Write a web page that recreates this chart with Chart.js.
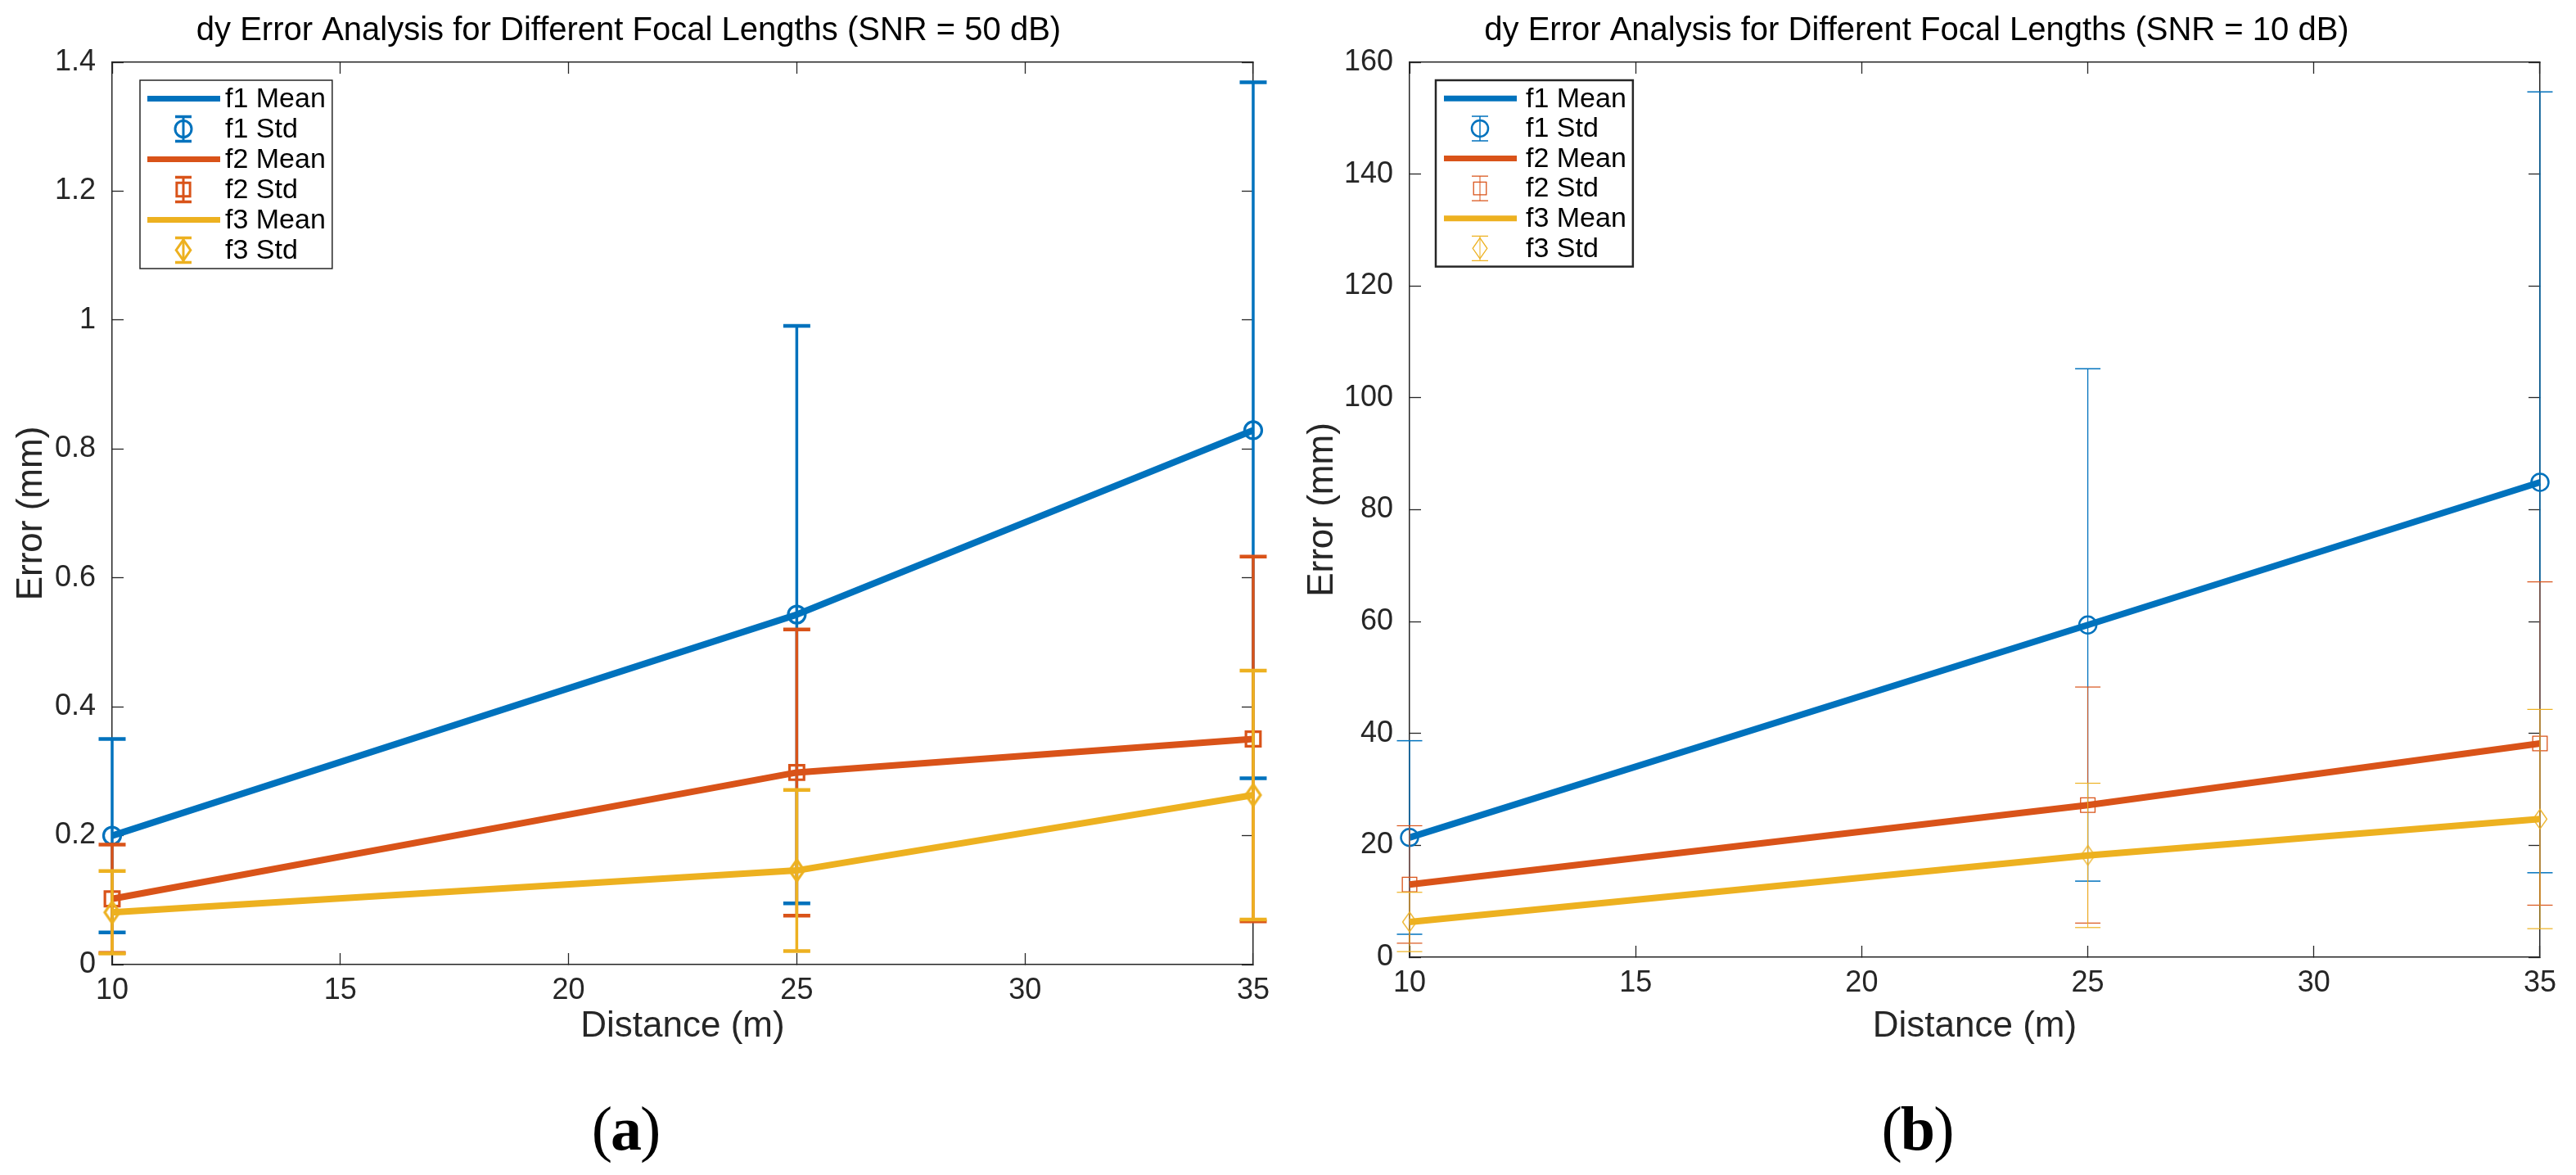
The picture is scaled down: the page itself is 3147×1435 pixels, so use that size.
<!DOCTYPE html>
<html>
<head>
<meta charset="utf-8">
<script src="https://cdn.jsdelivr.net/npm/chart.js@4.4.1/dist/chart.umd.min.js"></script>
<style>
html,body{margin:0;padding:0;background:#fff;width:3147px;height:1435px;overflow:hidden;}
.panel{position:absolute;top:0;height:1300px;}
#pa{left:0;width:1575px;}
#pb{left:1575px;width:1572px;}
.cap{position:absolute;top:1340px;font-family:'Liberation Serif','Times New Roman',serif;font-size:76px;line-height:76px;color:#000;transform:translateX(-50%);white-space:nowrap;letter-spacing:-2px;}
</style>
</head>
<body>
<div class="panel" id="pa"><canvas id="ca"></canvas></div>
<div class="panel" id="pb"><canvas id="cb"></canvas></div>
<div class="cap" style="left:764px;">(<b>a</b>)</div>
<div class="cap" style="left:2342px;">(<b>b</b>)</div>
<script>
// ---------------- data ----------------
const distances = [10, 25, 35];
const xTicks = [10, 15, 20, 25, 30, 35];
const xTickLabels = ['10', '15', '20', '25', '30', '35'];

const yTicksA = [0, 0.2, 0.4, 0.6, 0.8, 1, 1.2, 1.4];
const yTickLabelsA = ['0', '0.2', '0.4', '0.6', '0.8', '1', '1.2', '1.4'];
const yTicksB = [0, 20, 40, 60, 80, 100, 120, 140, 160];
const yTickLabelsB = ['0', '20', '40', '60', '80', '100', '120', '140', '160'];

// (a) SNR = 50 dB
const f1MeanA = [0.200, 0.543, 0.829];
const f1StdA  = [0.150, 0.448, 0.540];
const f2MeanA = [0.102, 0.298, 0.350];
const f2StdA  = [0.084, 0.222, 0.283];
const f3MeanA = [0.081, 0.146, 0.263];
const f3StdA  = [0.064, 0.125, 0.193];

// (b) SNR = 10 dB
const f1MeanB = [21.4, 59.4, 84.9];
const f1StdB  = [17.3, 45.8, 69.8];
const f2MeanB = [13.0, 27.2, 38.2];
const f2StdB  = [10.5, 21.1, 28.9];
const f3MeanB = [6.3, 18.2, 24.7];
const f3StdB  = [5.3, 12.9, 19.6];

const legendLabels = ['f1 Mean', 'f1 Std', 'f2 Mean', 'f2 Std', 'f3 Mean', 'f3 Std'];
const titleA = 'dy Error Analysis for Different Focal Lengths (SNR = 50 dB)';
const titleB = 'dy Error Analysis for Different Focal Lengths (SNR = 10 dB)';
const xTitle = 'Distance (m)';
const yTitle = 'Error (mm)';

// ---------------- style ----------------
const FONT = "'Liberation Sans', Arial, Helvetica, sans-serif";
const COLORS = ['#0072BD', '#D95319', '#EDB120'];
const AXIS_C = '#262626';

function diamondImg(w, h, lw, color) {
  const c = document.createElement('canvas');
  c.width = Math.ceil(w + lw * 2); c.height = Math.ceil(h + lw * 2);
  const g = c.getContext('2d');
  const cx = c.width / 2, cy = c.height / 2;
  g.strokeStyle = color; g.lineWidth = lw; g.lineJoin = 'miter';
  g.beginPath();
  g.moveTo(cx, cy - h / 2); g.lineTo(cx + w / 2, cy); g.lineTo(cx, cy + h / 2); g.lineTo(cx - w / 2, cy); g.closePath();
  g.stroke();
  return c;
}

function drawMarker(ctx, style, x, y, r, lw) {
  ctx.lineWidth = lw;
  ctx.beginPath();
  if (style === 'circle') {
    ctx.arc(x, y, r, 0, Math.PI * 2);
  } else if (style === 'rect') {
    const s = Math.SQRT1_2 * r;
    ctx.rect(x - s, y - s, 2 * s, 2 * s);
  } else {
    ctx.moveTo(x, y - r * 1.15); ctx.lineTo(x + r * 0.8, y); ctx.lineTo(x, y + r * 1.15); ctx.lineTo(x - r * 0.8, y); ctx.closePath();
  }
  ctx.stroke();
}

const MARK_KIND = ['circle', 'rect', 'diamond'];

const inLegend = {
  id: 'inLegend',
  afterDraw(chart, args, o) {
    const {ctx, chartArea} = chart;
    const x0 = chartArea.left + o.dx, y0 = chartArea.top + o.dy;
    ctx.save();
    ctx.font = o.fontSize + 'px ' + FONT;
    let maxW = 0;
    legendLabels.forEach(l => { maxW = Math.max(maxW, ctx.measureText(l).width); });
    const w = o.textX + maxW + 8;
    const h = o.rowH * legendLabels.length + o.vPad * 2;
    ctx.fillStyle = '#fff';
    ctx.fillRect(x0, y0, w, h);
    ctx.lineWidth = o.borderW;
    ctx.strokeStyle = AXIS_C;
    ctx.strokeRect(x0, y0, w, h);
    legendLabels.forEach((lab, i) => {
      const cy = y0 + o.vPad + o.rowH * (i + 0.5);
      const k = Math.floor(i / 2);
      ctx.strokeStyle = COLORS[k];
      if (i % 2 === 0) {
        ctx.lineWidth = o.meanW;
        ctx.beginPath();
        ctx.moveTo(x0 + o.lineX0, cy); ctx.lineTo(x0 + o.lineX1, cy);
        ctx.stroke();
      } else {
        const mx = x0 + o.markX;
        ctx.lineWidth = o.errW[k];
        ctx.beginPath();
        ctx.moveTo(mx, cy - 15); ctx.lineTo(mx, cy + 15);
        ctx.stroke();
        ctx.lineWidth = o.capW[k];
        ctx.beginPath();
        ctx.moveTo(mx - 10, cy - 15); ctx.lineTo(mx + 10, cy - 15);
        ctx.moveTo(mx - 10, cy + 15); ctx.lineTo(mx + 10, cy + 15);
        ctx.stroke();
        drawMarker(ctx, MARK_KIND[k], mx, cy, o.markR[k], o.markW[k]);
      }
      ctx.fillStyle = '#000';
      ctx.textAlign = 'left';
      ctx.textBaseline = 'middle';
      ctx.fillText(lab, x0 + o.textX, cy + 1);
    });
    ctx.restore();
  }
};

function makeChart(canvasId, cfg) {
  const markerStyles = [
    'circle',
    'rect',
    diamondImg(cfg.diaW, cfg.diaH, cfg.markW[2], COLORS[2])
  ];
  const markerR = [10.5, 12.5, 12];
  const datasets = [];
  cfg.series.forEach((s, k) => {
    datasets.push({
      label: legendLabels[2 * k],
      data: distances.map((d, i) => ({x: d, y: s.mean[i]})),
      borderColor: COLORS[k],
      borderWidth: cfg.meanW,
      pointRadius: 0,
      tension: 0,
      fill: false,
      borderJoinStyle: 'round',
      clip: false
    });
    const eb = [], ps = [], pr = [], pw = [];
    distances.forEach((d, i) => {
      eb.push({x: d, y: s.mean[i] - s.std[i]}, {x: d, y: s.mean[i]}, {x: d, y: s.mean[i] + s.std[i]}, {x: d, y: null});
      ps.push('line', markerStyles[k], 'line', 'line');
      pr.push(cfg.capR, markerR[k], cfg.capR, 0);
      pw.push(cfg.capW[k], cfg.markW[k], cfg.capW[k], 0);
    });
    datasets.push({
      label: legendLabels[2 * k + 1],
      data: eb,
      borderColor: COLORS[k],
      borderWidth: cfg.errW[k],
      pointStyle: ps,
      pointRadius: pr,
      pointBorderWidth: pw,
      pointBorderColor: COLORS[k],
      pointBackgroundColor: 'rgba(0,0,0,0)',
      tension: 0,
      fill: false,
      spanGaps: false,
      clip: false
    });
  });
  datasets.forEach((d, i) => { d.order = datasets.length - 1 - i; });

  const tickFont = {family: FONT, size: 36};
  const setTicks = vals => (scale => { scale.ticks = vals.map(v => ({value: v})); });
  const gridCfg = {drawOnChartArea: false, drawTicks: true, tickLength: -14, tickColor: AXIS_C, tickWidth: 1.3, color: AXIS_C};
  const borderCfg = {display: true, color: AXIS_C, width: 1.5};

  return new Chart(document.getElementById(canvasId), {
    type: 'line',
    data: {datasets},
    options: {
      responsive: true,
      maintainAspectRatio: false,
      animation: false,
      events: [],
      layout: {padding: {left: 0, right: cfg.rightPad, top: 0, bottom: 0}},
      plugins: {
        legend: {display: false},
        tooltip: {enabled: false},
        title: {display: true, text: cfg.title, color: '#000', font: {family: FONT, size: 40, weight: 'normal'}, padding: {top: 14, bottom: 14}},
        inLegend: cfg.legend
      },
      scales: {
        x: {
          type: 'linear', position: 'bottom', min: 10, max: 35,
          afterBuildTicks: setTicks(xTicks),
          afterFit: s => { s.height = cfg.xHeight; },
          ticks: {color: AXIS_C, font: tickFont, padding: 24, maxRotation: 0, autoSkip: false,
                  callback: (v, i) => xTickLabels[i]},
          grid: gridCfg, border: borderCfg,
          title: {display: true, text: xTitle, color: AXIS_C, font: {family: FONT, size: 44}, padding: {top: 0, bottom: 20}}
        },
        x2: {
          type: 'linear', position: 'top', min: 10, max: 35,
          afterBuildTicks: setTicks(xTicks),
          afterFit: s => { s.height = 0; },
          ticks: {display: false},
          grid: gridCfg, border: borderCfg
        },
        y: {
          type: 'linear', position: 'left', min: cfg.yTicks[0], max: cfg.yTicks[cfg.yTicks.length - 1],
          afterBuildTicks: setTicks(cfg.yTicks),
          afterFit: s => { s.width = cfg.yWidth; },
          ticks: {color: AXIS_C, font: tickFont, padding: 34, autoSkip: false,
                  callback: (v, i) => cfg.yLabels[i]},
          grid: gridCfg, border: borderCfg,
          title: {display: true, text: yTitle, color: AXIS_C, font: {family: FONT, size: 44}, padding: {top: cfg.yTitlePad, bottom: 0}}
        },
        y2: {
          type: 'linear', position: 'right', min: cfg.yTicks[0], max: cfg.yTicks[cfg.yTicks.length - 1],
          afterBuildTicks: setTicks(cfg.yTicks),
          afterFit: s => { s.width = 0; },
          ticks: {display: false},
          grid: gridCfg, border: borderCfg
        }
      }
    },
    plugins: [inLegend]
  });
}

makeChart('ca', {
  title: titleA, yTicks: yTicksA, yLabels: yTickLabelsA, yWidth: 137, rightPad: 39, xHeight: 122, yTitlePad: 12,
  series: [{mean: f1MeanA, std: f1StdA}, {mean: f2MeanA, std: f2StdA}, {mean: f3MeanA, std: f3StdA}],
  meanW: 8, capR: 16.5, errW: [3.5, 3.5, 3.5], capW: [4.5, 4.5, 4.5], markW: [3.2, 3.2, 3.2], diaW: 18, diaH: 26,
  legend: {dx: 34, dy: 22, rowH: 37, vPad: 4, fontSize: 34, textX: 104, lineX0: 9, lineX1: 98, markX: 53,
           borderW: 1.5, meanW: 7, errW: [3, 3, 3], capW: [3.5, 3.5, 3.5], markW: [3, 3, 3], markR: [10, 11.5, 11]}
});

makeChart('cb', {
  title: titleB, yTicks: yTicksB, yLabels: yTickLabelsB, yWidth: 147, rightPad: 39, xHeight: 131, yTitlePad: 14,
  series: [{mean: f1MeanB, std: f1StdB}, {mean: f2MeanB, std: f2StdB}, {mean: f3MeanB, std: f3StdB}],
  meanW: 8, capR: 15.5, errW: [1.3, 1, 1], capW: [1.5, 1.2, 1.2], markW: [2.5, 1.3, 1.3], diaW: 17, diaH: 24,
  legend: {dx: 32, dy: 22, rowH: 36.6, vPad: 4, fontSize: 34, textX: 110, lineX0: 10, lineX1: 99, markX: 54,
           borderW: 2.5, meanW: 7, errW: [1.5, 1, 1], capW: [1.5, 1.2, 1.2], markW: [2.5, 1.3, 1.3], markR: [10, 11, 11]}
});
</script>
</body>
</html>
